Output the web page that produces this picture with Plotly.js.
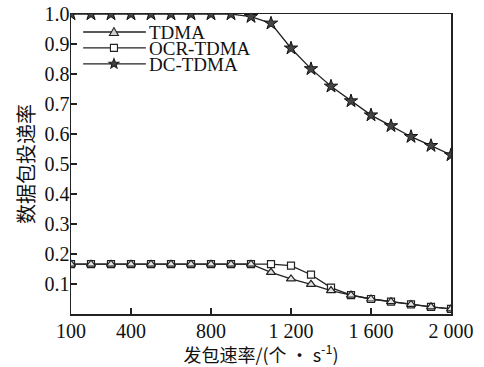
<!DOCTYPE html>
<html>
<head>
<meta charset="utf-8">
<script src="https://cdn.plot.ly/plotly-3.0.1.min.js"></script>
<style>html,body{margin:0;padding:0;background:#fff;}#chart{width:484px;height:367px;}</style>
</head>
<body>
<div id="chart"></div>
<script>
const rates = [100,200,300,400,500,600,700,800,900,1000,1100,1200,1300,1400,1500,1600,1700,1800,1900,2000];
const tdma = [0.166,0.166,0.166,0.166,0.166,0.166,0.166,0.166,0.166,0.166,0.139,0.117,0.099,0.078,0.063,0.050,0.041,0.032,0.024,0.017];
const ocrTdma = [0.166,0.166,0.166,0.166,0.166,0.166,0.166,0.166,0.166,0.166,0.166,0.161,0.131,0.088,0.063,0.050,0.041,0.032,0.024,0.017];
const dcTdma = [1.0,1.0,1.0,1.0,1.0,1.0,1.0,1.0,1.0,0.991,0.969,0.886,0.817,0.759,0.710,0.663,0.627,0.591,0.561,0.530];
const seriesNames = ['TDMA','OCR-TDMA','DC-TDMA'];
const xTickVals = [100,400,800,1200,1600,2000];
const xTickText = ['100','400','800','1 200','1 600','2 000'];
const yTickVals = [0.1,0.2,0.3,0.4,0.5,0.6,0.7,0.8,0.9,1.0];

const serif = 'Liberation Serif, Times New Roman, serif';
const cjk = 'Noto Sans CJK SC, sans-serif';
const ink = '#222';
const lineStyle = {color:ink, width:1.3};
const triMarker = {symbol:'triangle-up', size:8, color:'#e4e4e4', line:{color:ink, width:1.2}};
const sqMarker = {symbol:'square', size:7, color:'#fff', line:{color:ink, width:1.2}};
const starMarker = {symbol:'star', size:10, color:'#444', line:{color:'#111', width:1}};

const traces = [
  {x:rates, y:ocrTdma, name:seriesNames[1], mode:'lines+markers', line:lineStyle, marker:sqMarker},
  {x:rates, y:tdma, name:seriesNames[0], mode:'lines+markers', line:lineStyle, marker:triMarker},
  {x:rates, y:dcTdma, name:seriesNames[2], mode:'lines+markers', line:lineStyle, marker:starMarker}
];

// custom legend (layout decoration in plot-area paper coordinates)
const legX0 = 0.032, legX1 = 0.197, legMark = 0.113, legText = 0.203;
const legY = [0.94, 0.887, 0.834];
function starPath(R, r) {
  let p = '';
  for (let i = 0; i < 10; i++) {
    const a = Math.PI / 2 + i * Math.PI / 5;
    const rad = i % 2 === 0 ? R : r;
    p += (i === 0 ? 'M' : 'L') + (rad * Math.cos(a)).toFixed(2) + ',' + (rad * Math.sin(a)).toFixed(2);
  }
  return p + 'Z';
}
const symPaths = ['M-4.5,-3.5L4.5,-3.5L0,4.5Z', 'M-3.5,-3.5L3.5,-3.5L3.5,3.5L-3.5,3.5Z', starPath(5.2, 2.2)];
const symFill = ['#cfcfcf', '#fff', '#444'];
const shapes = [];
const annotations = [];
seriesNames.forEach((n, i) => {
  shapes.push({type:'line', xref:'paper', yref:'paper', x0:legX0, x1:legX1, y0:legY[i], y1:legY[i], line:{color:ink, width:1.3}});
  shapes.push({type:'path', xref:'paper', yref:'paper', xsizemode:'pixel', ysizemode:'pixel',
               xanchor:legMark, yanchor:legY[i], path:symPaths[i], fillcolor:symFill[i], line:{color:ink, width:1.1}});
  annotations.push({xref:'paper', yref:'paper', x:legText, y:legY[i], xanchor:'left', yanchor:'middle',
                    text:n, showarrow:false, height:16, valign:'middle',
                    font:{family:serif, size:19, color:'#111'}, borderpad:0});
});

const layout = {
  width:484, height:367,
  margin:{l:71, r:33, t:14, b:53},
  paper_bgcolor:'#fff', plot_bgcolor:'#fff',
  showlegend:false,
  shapes:shapes, annotations:annotations,
  xaxis:{range:[100,2000], tickvals:xTickVals, ticktext:xTickText,
         ticks:'inside', ticklen:6, tickcolor:ink, tickwidth:1.2,
         showline:true, linecolor:ink, linewidth:1.5, mirror:true,
         showgrid:false, zeroline:false, ticklabelstandoff:-2,
         tickfont:{family:serif, size:20, color:'#111'},
         title:{text:'发包速率/(个 • s<sup>-1</sup>)', font:{family:cjk, size:18, color:'#111'}, standoff:4}},
  yaxis:{range:[0,1.0], tickvals:yTickVals, tickformat:'.1f',
         ticks:'inside', ticklen:6, tickcolor:ink, tickwidth:1.2,
         showline:true, linecolor:ink, linewidth:1.5, mirror:true,
         showgrid:false, zeroline:false, ticklabelstandoff:-4,
         tickfont:{family:serif, size:20, color:'#111'},
         title:{text:'数据包投递率', font:{family:cjk, size:20, color:'#111'}, standoff:4}}
};
Plotly.newPlot('chart', traces, layout, {displayModeBar:false, staticPlot:true});
</script>
</body>
</html>
